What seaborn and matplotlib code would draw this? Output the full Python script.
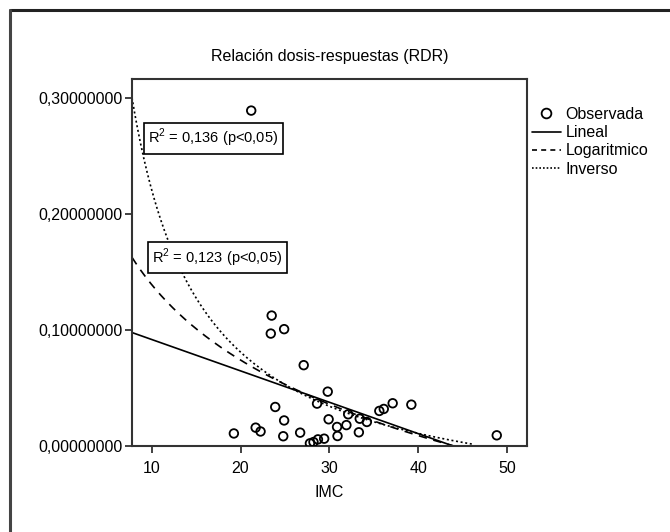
import matplotlib
matplotlib.use("Agg")
import matplotlib.pyplot as plt
from matplotlib.lines import Line2D
from matplotlib.ticker import FuncFormatter
import numpy as np
import pandas as pd
import seaborn as sns

# observed points (IMC, RDR)
imc = [21.2, 23.5, 23.4, 24.9, 27.1, 29.8, 23.9, 28.6, 35.6, 36.1, 37.1, 39.2,
       32.1, 33.4, 34.2, 24.9, 29.9, 30.85, 31.9, 33.3, 19.25, 21.7, 22.25,
       24.8, 26.7, 30.9, 48.8, 27.8, 28.2, 28.7, 29.4]
rdr = [0.2888, 0.1123, 0.0968, 0.1006, 0.0696, 0.0468, 0.0336, 0.0365, 0.0302,
       0.0319, 0.0368, 0.0356, 0.0273, 0.0235, 0.0207, 0.0220, 0.0230, 0.0164,
       0.0180, 0.0118, 0.0108, 0.0158, 0.0125, 0.0084, 0.0115, 0.0086, 0.0092,
       0.0023, 0.0034, 0.0057, 0.0063]

# fitted models, coefficients
lin_coef = (0.1188, -0.002706)   # y = a + b*x
log_coef = (0.3553, -0.0939)     # y = a + b*ln(x)
inv_coef = (-0.0592, 2.801)      # y = a + b/x

x_range = (7.8, 52.2)
y_range = (0.0, 0.316)
x_ticks = [10, 20, 30, 40, 50]
y_ticks = [0.0, 0.1, 0.2, 0.3]
labels = ["Observada", "Lineal", "Logaritmico", "Inverso"]
r2_notes = ["R$^2$ = 0,136 (p<0,05)", "R$^2$ = 0,123 (p<0,05)"]

sns.set_style("ticks")
plt.rcParams["font.family"] = ["Liberation Sans", "DejaVu Sans"]
plt.rcParams["mathtext.fontset"] = "custom"
plt.rcParams["mathtext.rm"] = "Liberation Sans"
plt.rcParams["text.color"] = "black"
plt.rcParams["axes.labelcolor"] = "black"
plt.rcParams["xtick.labelcolor"] = "black"
plt.rcParams["ytick.labelcolor"] = "black"

fig = plt.figure(figsize=(6.7, 5.32), dpi=100)
ax = fig.add_axes([132 / 670, 1 - 446 / 532, 395 / 670, 367 / 532])

# outer frame (only top and left visible in the reference)
fig.add_artist(Line2D([10 / 670, 1], [1 - 10 / 532, 1 - 10 / 532], color="#222222", lw=2.2))
fig.add_artist(Line2D([10 / 670, 10 / 670], [0, 1 - 10 / 532], color="#444444", lw=2.2))

xs = np.linspace(x_range[0], 46, 400)
fits = pd.DataFrame({
    "x": xs,
    "lin": lin_coef[0] + lin_coef[1] * xs,
    "log": log_coef[0] + log_coef[1] * np.log(xs),
    "inv": inv_coef[0] + inv_coef[1] / xs,
})

sns.lineplot(data=fits, x="x", y="lin", ax=ax, color="black", lw=1.2)
sns.lineplot(data=fits, x="x", y="log", ax=ax, color="black", lw=1.2,
             linestyle=(0, (5, 4)))
sns.lineplot(data=fits, x="x", y="inv", ax=ax, color="black", lw=1.2,
             linestyle=(0, (1.2, 1.6)))

obs = pd.DataFrame({"IMC": imc, "RDR": rdr})
sns.scatterplot(data=obs, x="IMC", y="RDR", ax=ax, marker="o", s=38,
                facecolor="none", edgecolor="black", linewidth=1.3, zorder=5)

ax.set_xlim(*x_range)
ax.set_ylim(*y_range)
ax.set_xticks(x_ticks)
ax.set_yticks(y_ticks)
ax.yaxis.set_major_formatter(FuncFormatter(lambda v, p: f"{v:.8f}".replace(".", ",")))
ax.tick_params(axis="both", direction="out", length=5, width=1.3, color="#333333",
               labelsize=11.5)
ax.tick_params(axis="x", pad=6)
ax.tick_params(axis="y", pad=2)
for sp in ax.spines.values():
    sp.set_visible(True)
    sp.set_linewidth(1.5)
    sp.set_color("#333333")

ax.set_xlabel("IMC", fontsize=11.5, labelpad=6)
ax.set_ylabel("")
ax.set_title("Relación dosis-respuestas (RDR)", fontsize=11.5, pad=13)

box = dict(boxstyle="square,pad=0.3", facecolor="white", edgecolor="black", lw=1.2)
ax.text(9.6, 0.265, r2_notes[0], fontsize=10.5, va="center", ha="left", bbox=box, zorder=6)
ax.text(10.1, 0.162, r2_notes[1], fontsize=10.5, va="center", ha="left", bbox=box, zorder=6)

handles = [
    Line2D([], [], marker="o", ls="none", mfc="none", mec="black", ms=7, mew=1.3),
    Line2D([], [], color="black", lw=1.2),
    Line2D([], [], color="black", lw=1.2, ls=(0, (3, 2.5))),
    Line2D([], [], color="black", lw=1.2, ls=(0, (1, 1.2))),
]
fig.legend(handles, labels, loc="upper left", bbox_to_anchor=(532 / 670, 1 - 107 / 532),
           frameon=False, fontsize=11.5, handlelength=1.8, handletextpad=0.3,
           labelspacing=0.2, borderaxespad=0, borderpad=0)

fig.savefig("out.png", dpi=100)
